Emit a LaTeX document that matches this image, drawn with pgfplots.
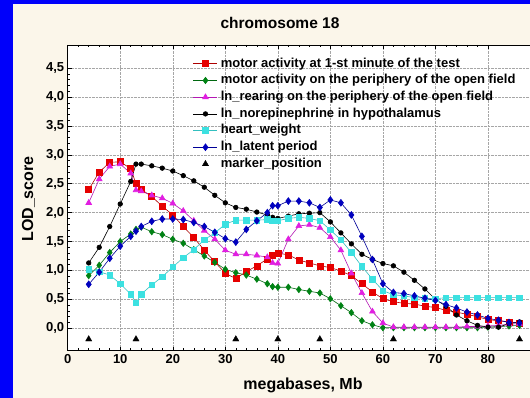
\documentclass[border=0pt]{standalone}
\usepackage{fontspec}
\setmainfont{Liberation Sans}
\usepackage{pgfplots}
\usepackage{pgfplotstable}
\pgfplotsset{compat=1.18}
\definecolor{bgbeige}{RGB}{251,246,234}
\definecolor{frameblue}{RGB}{0,0,250}
\definecolor{sred}{RGB}{230,0,0}
\definecolor{sgreen}{RGB}{0,130,20}
\definecolor{smag}{RGB}{225,30,225}
\definecolor{scyan}{RGB}{60,225,225}
\definecolor{sblue}{RGB}{0,0,190}
\newcommand\tfont{\fontsize{13}{15}\selectfont\bfseries}
\pgfplotstableread{
x red green mag black cyan blue
4 2.40 0.91 2.17 1.13 1.02 0.76
6 2.70 1.09 2.58 1.40 0.98 0.97
8 2.87 1.31 2.80 1.76 0.92 1.21
10 2.88 1.50 2.84 2.15 0.77 1.42
12 2.76 1.63 2.68 2.54 0.59 1.59
13 2.50 1.71 2.39 2.84 0.44 1.68
14 2.40 1.75 2.37 2.84 0.59 1.76
16 2.28 1.67 2.30 2.81 0.75 1.85
18 2.11 1.62 2.25 2.77 0.89 1.89
20 1.96 1.54 2.16 2.72 1.06 1.89
22 1.76 1.47 2.03 2.64 1.22 1.88
24 1.57 1.36 1.86 2.55 1.36 1.83
26 1.35 1.25 1.69 2.44 1.53 1.76
28 1.15 1.14 1.54 2.30 1.65 1.66
30 0.95 1.02 1.35 2.17 1.80 1.55
32 0.86 0.96 1.28 2.09 1.87 1.49
34 0.98 0.92 1.28 2.06 1.87 1.71
36 1.08 0.85 1.26 2.01 1.87 1.86
38 1.20 0.77 1.23 1.96 1.88 2.00
39 1.27 0.72 1.13 1.92 1.86 2.12
40 1.30 0.71 1.12 1.90 1.86 2.12
42 1.27 0.71 1.54 1.94 1.90 2.20
44 1.18 0.67 1.77 1.98 1.92 2.20
46 1.13 0.64 1.79 1.99 1.90 2.17
48 1.08 0.61 1.74 2.00 1.86 2.09
50 1.05 0.51 1.58 1.84 1.70 2.22
52 0.99 0.39 1.35 1.65 1.53 2.17
54 0.91 0.27 0.95 1.46 1.31 1.96
56 0.77 0.13 0.61 1.28 1.07 1.59
58 0.63 0.06 0.29 1.19 0.85 1.19
60 0.51 0.01 0.09 1.12 0.65 0.77
62 0.46 0.01 0.02 1.08 0.58 0.62
64 0.43 0.01 0.02 0.97 0.56 0.60
66 0.42 0.01 0.02 0.83 0.53 0.56
68 0.38 0.01 0.02 0.68 0.52 0.52
70 0.36 0.01 0.02 0.50 0.51 0.48
72 0.31 0.01 0.02 0.38 0.53 0.41
74 0.28 0.01 0.02 0.23 0.53 0.35
76 0.24 0.01 0.03 0.13 0.53 0.28
78 0.20 0.01 0.03 0.05 0.53 0.23
80 0.15 0.02 0.04 0.02 0.53 0.17
82 0.13 0.03 0.05 0.02 0.53 0.14
84 0.11 0.04 0.07 0.08 0.53 0.10
86 0.09 0.05 0.08 0.11 0.53 0.09
}\datatab
\pgfplotstableread{
x y
4 -0.19
13 -0.19
32 -0.19
40 -0.19
48 -0.19
62 -0.19
86 -0.19
}\markertab
\begin{document}
\begin{tikzpicture}[x=1pt,y=1pt]
\useasboundingbox (0,0) rectangle (530,398);
\fill[frameblue] (0,0) rectangle (530,398);
\fill[bgbeige] (13,0) rectangle (530,394);
\begin{axis}[
  at={(67.7pt,47.3pt)}, anchor=south west,
  width=462.3pt, height=305.7pt, scale only axis,
  xmin=0, xmax=88, ymin=-0.388, ymax=4.9,
  axis x line*=box, axis y line*=left,
  axis line style={black, line width=0.8pt},
  axis background/.style={fill=white},
  xtick={0,10,...,80}, ytick={0,0.5,...,4.5},
  minor x tick num=4, minor y tick num=4,
  tick align=inside, major tick length=4pt, minor tick length=2.5pt,
  tick style={black, line width=0.5pt},
  grid=major, major grid style={densely dotted, gray!70, line width=0.5pt},
  /pgf/number format/assume math mode=true,
  ticklabel style={font=\tfont},
  yticklabel style={/pgf/number format/.cd, fixed, fixed zerofill, precision=1, use comma},
  xticklabel style={/pgf/number format/1000 sep={}},
  legend cell align=left,
  legend image code/.code={\draw[mark repeat=2,mark phase=2,#1] plot coordinates {(0pt,0pt) (12pt,0pt) (24pt,0pt)};},
  legend style={draw=none, fill=none, at={(0.271,0.958)}, anchor=north west,
    font=\tfont, row sep=5.2pt, column sep=3pt, inner sep=0pt,
    nodes={inner sep=0pt, text height=9pt, text depth=2.5pt}},
]
\addplot[sred!75!black, line width=0.6pt, mark=square*, mark size=3pt, mark options={sred, fill=sred}] table[x=x,y=red] {\datatab};
\addlegendentry{motor activity at 1-st minute of the test}
\addplot[sgreen!80!black, line width=0.6pt, mark=diamond*, mark size=3.2pt, mark options={sgreen, fill=sgreen}] table[x=x,y=green] {\datatab};
\addlegendentry{motor activity on the periphery of the open field}
\addplot[smag!80!black, line width=0.6pt, mark=triangle*, mark size=3.3pt, mark options={smag, fill=smag}] table[x=x,y=mag] {\datatab};
\addlegendentry{ln\_rearing on the periphery of the open field}
\addplot[black, line width=0.6pt, mark=*, mark size=2.3pt, mark options={black, fill=black}] table[x=x,y=black] {\datatab};
\addlegendentry{ln\_norepinephrine in hypothalamus}
\addplot[scyan!85!black, line width=0.6pt, mark=square*, mark size=2.8pt, mark options={scyan, fill=scyan}] table[x=x,y=cyan] {\datatab};
\addlegendentry{heart\_weight}
\addplot[sblue!80!black, line width=0.6pt, mark=diamond*, mark size=3.4pt, mark options={sblue, fill=sblue}] table[x=x,y=blue] {\datatab};
\addlegendentry{ln\_latent period}
\addplot[only marks, black, mark=triangle*, mark size=3.6pt, mark options={fill=black}] table[x=x,y=y] {\markertab};
\addlegendentry{marker\_position}
\end{axis}
\node[font=\fontsize{15.5}{18}\selectfont\bfseries] at (280,375) {chromosome 18};
\node[font=\fontsize{16}{18}\selectfont\bfseries] at (303,12.5) {megabases, Mb};
\node[font=\fontsize{16}{18}\selectfont\bfseries, rotate=90] at (28.5,199) {LOD\_score};
\end{tikzpicture}
\end{document}
